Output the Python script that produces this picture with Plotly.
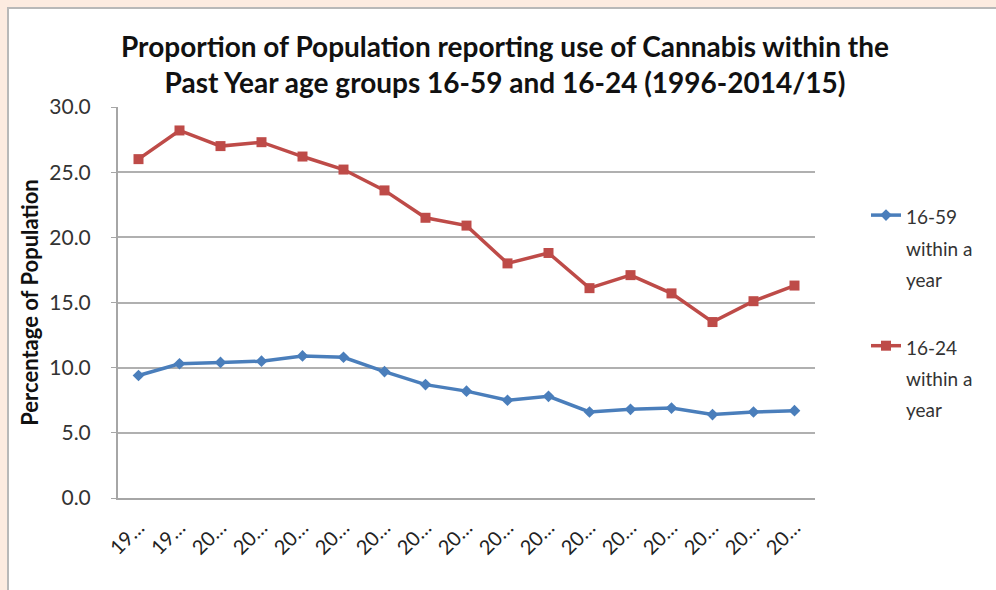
import plotly.graph_objects as go

# survey years (category axis) and shortened tick labels as shown
years = ["1996", "1998", "2000", "2001/02", "2002/03", "2003/04", "2004/05",
         "2005/06", "2006/07", "2007/08", "2008/09", "2009/10", "2010/11",
         "2011/12", "2012/13", "2013/14", "2014/15"]
tick_text = ["19…", "19…"] + ["20…"] * 15

age_16_59 = [9.4, 10.3, 10.4, 10.5, 10.9, 10.8, 9.7, 8.7, 8.2, 7.5, 7.8,
             6.6, 6.8, 6.9, 6.4, 6.6, 6.7]
age_16_24 = [26.0, 28.2, 27.0, 27.3, 26.2, 25.2, 23.6, 21.5, 20.9, 18.0, 18.8,
             16.1, 17.1, 15.7, 13.5, 15.1, 16.3]

y_ticks = [0, 5, 10, 15, 20, 25, 30]

BLUE = "#4a7ebb"
RED = "#be4b48"
FONT = "Lato"

W, H = 996, 590
L, R, T, B = 118, 181, 107, 92
pw, ph = W - L - R, H - T - B


def px_x(x):
    return (x - L) / pw


def px_y(y):
    return (H - B - y) / ph


def legend_label(txt):
    # bigger base legend font gives Excel-like line spacing, span keeps glyphs smaller
    return "<br>".join(f'<span style="font-size:19px">{t}</span>' for t in txt)


fig = go.Figure()
fig.add_trace(go.Scatter(
    x=years, y=age_16_59, mode="lines+markers",
    name=legend_label(["16-59", "within a", "year"]), legendgroup="a",
    line=dict(color=BLUE, width=3.5),
    marker=dict(symbol="diamond", size=9, color=BLUE),
))
fig.add_trace(go.Scatter(
    x=years, y=age_16_24, mode="lines+markers",
    name=legend_label(["16-24", "within a", "year"]), legendgroup="b",
    line=dict(color=RED, width=3.5),
    marker=dict(symbol="square", size=10, color=RED),
))

fig.update_layout(
    width=W, height=H,
    margin=dict(l=L, r=R, t=T, b=B),
    paper_bgcolor="#fcebe0",
    plot_bgcolor="white",
    font=dict(family=FONT, color="#222222"),
    title=dict(
        text="<b>Proportion of Population reporting use of Cannabis within the<br>"
             "Past Year age groups 16-59 and 16-24 (1996-2014/15)</b>",
        x=(505 / W), xref="container", xanchor="center",
        y=1 - 57 / H, yanchor="middle",
        font=dict(size=28, family=FONT, color="#111111"),
    ),
    legend=dict(
        x=px_x(866), xanchor="left", y=px_y(193), yanchor="top",
        font=dict(size=24, color="#333333"), valign="top",
        tracegroupgap=34, bgcolor="rgba(0,0,0,0)",
    ),
    shapes=[dict(
        type="rect", xref="paper", yref="paper", layer="below",
        x0=px_x(8), x1=px_x(1010), y0=px_y(8), y1=px_y(600),
        fillcolor="white", line=dict(color="#b8b8b8", width=2),
    )],
)

fig.update_xaxes(
    type="category", range=[-0.5, len(years) - 0.5],
    tickvals=years, ticktext=tick_text, tickangle=-45,
    tickfont=dict(size=20, color="#222222"),
    showline=True, linecolor="#a6a6a6", linewidth=2,
    showgrid=False, ticks="", ticklabelstandoff=8,
)
fig.update_yaxes(
    range=[0, 30], tickvals=y_ticks, tickformat=".1f",
    tickfont=dict(size=21, color="#333333"),
    showline=True, linecolor="#a6a6a6", linewidth=2,
    showgrid=True, gridcolor="#b0b0b0", gridwidth=1.5,
    ticks="outside", ticklen=5, tickcolor="#a6a6a6", ticklabelstandoff=16,
    zeroline=False,
    title=dict(text="<b>Percentage of Population</b>",
               font=dict(size=22, color="#111111"), standoff=5),
)

fig.write_html("out.html", config={"displayModeBar": False},
               post_script="document.body.style.margin = '0';")
